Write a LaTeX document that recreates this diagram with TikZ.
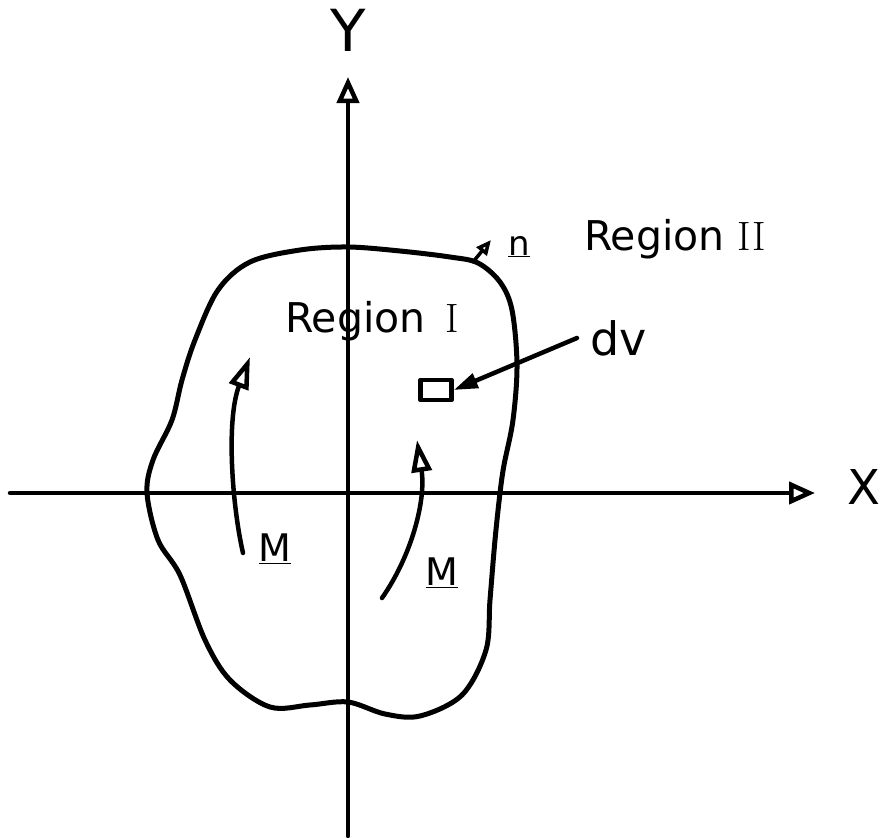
\documentclass[tikz,border=0pt]{standalone}
\usepackage{fontspec}
\setsansfont{DejaVu Sans}
\usetikzlibrary{arrows.meta}
\begin{document}
\begin{tikzpicture}[x=1pt,y=-1pt, line cap=round, line join=round,
  axis/.style={line width=4.5pt,-{Triangle[open,length=26pt,width=22pt]}},
  blob/.style={line width=5pt},
  marrow/.style={line width=4.5pt,-{Triangle[open,length=32pt,width=20pt]}},
  lbl/.style={font=\sffamily\fontsize{41}{43}\selectfont, inner sep=0pt},
  mlbl/.style={font=\sffamily\fontsize{38}{40}\selectfont, inner sep=0pt},
]
\useasboundingbox (0,0) rectangle (881,838);
% axes
\coordinate (xs) at (10,493); \coordinate (xe) at (815,493);
\coordinate (ys) at (348,836); \coordinate (ye) at (348,77);
\draw[axis] (xs) -- (xe);
\draw[axis] (ys) -- (ye);
\node[font=\sffamily\fontsize{58}{60}\selectfont, inner sep=0pt] (ylab) at (348,30) {Y};
\node[font=\sffamily\fontsize{48}{50}\selectfont, inner sep=0pt] (xlab) at (864,487) {X};
% region boundary
\draw[blob] plot[smooth cycle, tension=0.55] coordinates {
 (348,247) (400,251) (450,257) (478,263) (500,282) (512,310) (517,365)
 (513,420) (504,465) (500,493) (495,540) (490,600) (486,650) (462,695)
 (420,716) (385,714) (348,702) (310,705) (270,707) (230,680) (205,640)
 (180,575) (158,540) (147,493) (153,460) (172,420) (182,380) (195,340)
 (218,290) (250,262) (300,250)};
% normal
\coordinate (ns) at (473,262); \coordinate (ne) at (491,240);
\draw[line width=3.5pt,-{Triangle[open,length=15pt,width=13pt]}] (ns) -- (ne);
\node[font=\sffamily\fontsize{34}{36}\selectfont, inner sep=0pt, anchor=base west] (nlab) at (508,255) {\underline{n}};
% labels
\node[lbl, anchor=base west] (r2) at (584,250) {Region \textrm{II}};
\node[lbl, anchor=base west] (r1) at (285,332) {Region \,\textrm{I}};
% dv
\node[draw, line width=4.5pt, minimum width=31pt, minimum height=20pt, inner sep=0pt] (sq) at (436,390) {};
\node[font=\sffamily\fontsize{46}{48}\selectfont, inner sep=0pt, anchor=base west] (dv) at (590,355) {dv};
\coordinate (dvs) at (577,338);
\draw[line width=4.5pt,-{Triangle[length=24pt,width=15pt]}] (dvs) -- (sq.east);
% M arrows
\coordinate (m1s) at (243,553); \coordinate (m1e) at (250,357);
\draw[marrow] (m1s) .. controls (232,505) and (226,420) .. (m1e);
\coordinate (m2s) at (382,598); \coordinate (m2e) at (417,440);
\draw[marrow] (m2s) .. controls (412,555) and (426,500) .. (m2e);
\node[mlbl] (m1) at (275,549) {\underline{M}};
\node[mlbl] (m2) at (442,573) {\underline{M}};
\end{tikzpicture}
\end{document}
